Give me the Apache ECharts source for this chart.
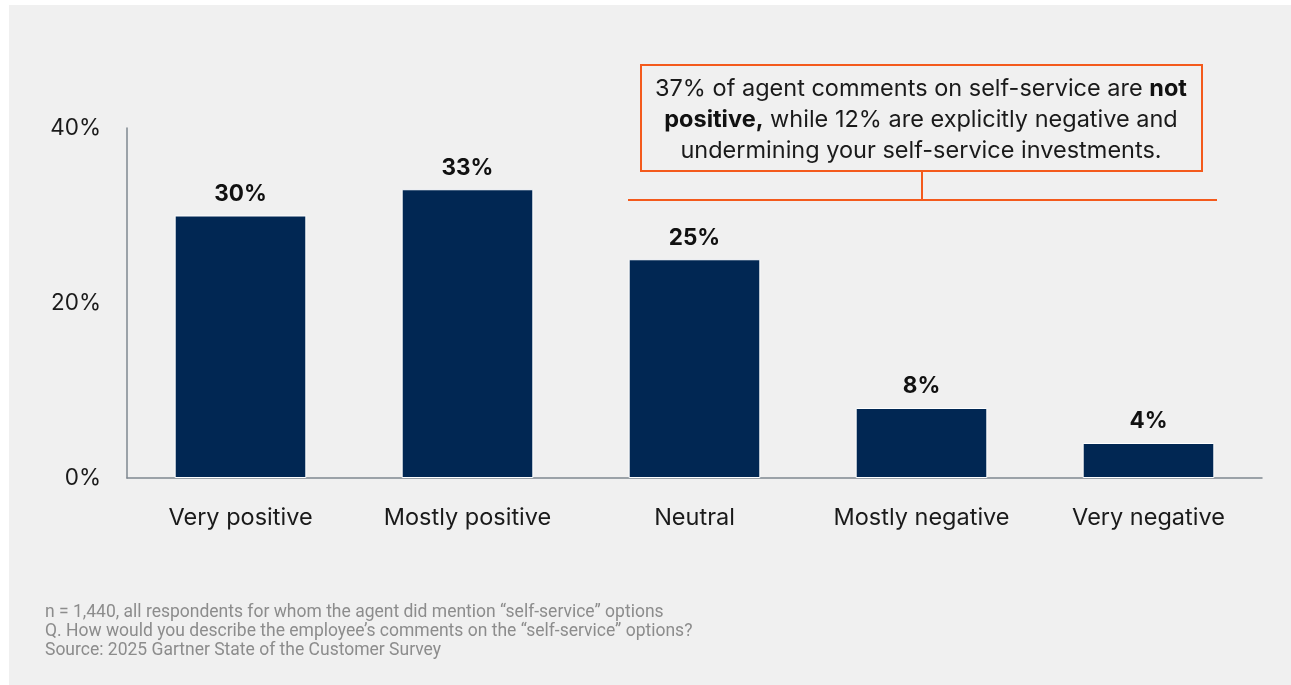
<!DOCTYPE html>
<html>
<head>
<meta charset="utf-8">
<script src="https://cdn.jsdelivr.net/npm/echarts@6/dist/echarts.min.js"></script>
<style>
  html, body { margin: 0; padding: 0; background: #ffffff; }
  #chart { position: absolute; left: 9px; top: 5px; width: 1282px; height: 680px; background: #f0f0f0; }
</style>
</head>
<body>
<div id="chart"></div>
<script>
// Sentiment categories and share of agent comments (%)
const categories = ['Very positive', 'Mostly positive', 'Neutral', 'Mostly negative', 'Very negative'];
const shares = [30, 33, 25, 8, 4];
const yTicks = [0, 20, 40];

const footnotes = [
  'n = 1,440, all respondents for whom the agent did mention \u201cself-service\u201d options',
  'Q. How would you describe the employee\u2019s comments on the \u201cself-service\u201d options?',
  'Source: 2025 Gartner State of the Customer Survey'
];

const ORANGE = '#f45a1c';
const NAVY = '#012753';
const FONT = 'Inter, Roboto, sans-serif';

const chart = echarts.init(document.getElementById('chart'));

chart.setOption({
  backgroundColor: '#f0f0f0',
  animation: false,
  grid: { left: 118, right: 29, top: 123, bottom: 207, containLabel: false },
  xAxis: {
    type: 'category',
    data: categories,
    axisLine: { show: true, lineStyle: { color: '#7f8890', width: 1.5 } },
    axisTick: { show: false },
    axisLabel: { color: '#1a1a1a', fontSize: 23.5, fontFamily: FONT, margin: 28, interval: 0, hideOverlap: false }
  },
  yAxis: {
    type: 'value',
    min: yTicks[0],
    max: yTicks[yTicks.length - 1],
    interval: 20,
    axisLine: { show: true, lineStyle: { color: '#7f8890', width: 1.5 } },
    axisTick: { show: false },
    splitLine: { show: false },
    axisLabel: { color: '#1a1a1a', fontSize: 22.5, fontFamily: FONT, margin: 26, formatter: v => v + '%' }
  },
  series: [{
    type: 'bar',
    data: shares,
    barWidth: '58%',
    itemStyle: { color: NAVY, borderColor: '#ffffff', borderWidth: 1 },
    label: {
      show: true,
      position: 'top',
      distance: 10,
      color: '#111111',
      fontSize: 22.5,
      fontWeight: 'bold',
      fontFamily: FONT,
      formatter: p => p.value + '%'
    }
  }],
  graphic: [
    // callout bracket spanning the non-positive categories
    { type: 'line', shape: { x1: 619, y1: 195, x2: 1208, y2: 195 }, style: { stroke: ORANGE, lineWidth: 2 } },
    { type: 'line', shape: { x1: 913, y1: 166, x2: 913, y2: 195 }, style: { stroke: ORANGE, lineWidth: 2 } },
    { type: 'rect', shape: { x: 632, y: 60, width: 561, height: 106 }, style: { fill: '#f0f0f0', stroke: ORANGE, lineWidth: 2 } },
    {
      type: 'text',
      x: 912, y: 115,
      style: {
        text: '37% of agent comments on self-service are {b|not}\n{b|positive,} while 12% are explicitly negative and\nundermining your self-service investments.',
        align: 'center',
        verticalAlign: 'middle',
        fontSize: 23.5,
        lineHeight: 31,
        fontFamily: FONT,
        fill: '#1a1a1a',
        rich: { b: { fontWeight: 'bold', fontSize: 23.5, fontFamily: FONT, fill: '#111111', lineHeight: 31 } }
      }
    },
    {
      type: 'text',
      left: 36, top: 598,
      style: {
        text: footnotes.join('\n'),
        fontSize: 17.5,
        lineHeight: 19,
        fontFamily: 'Roboto, sans-serif',
        fill: '#8c8c8c'
      }
    }
  ]
});
</script>
</body>
</html>
